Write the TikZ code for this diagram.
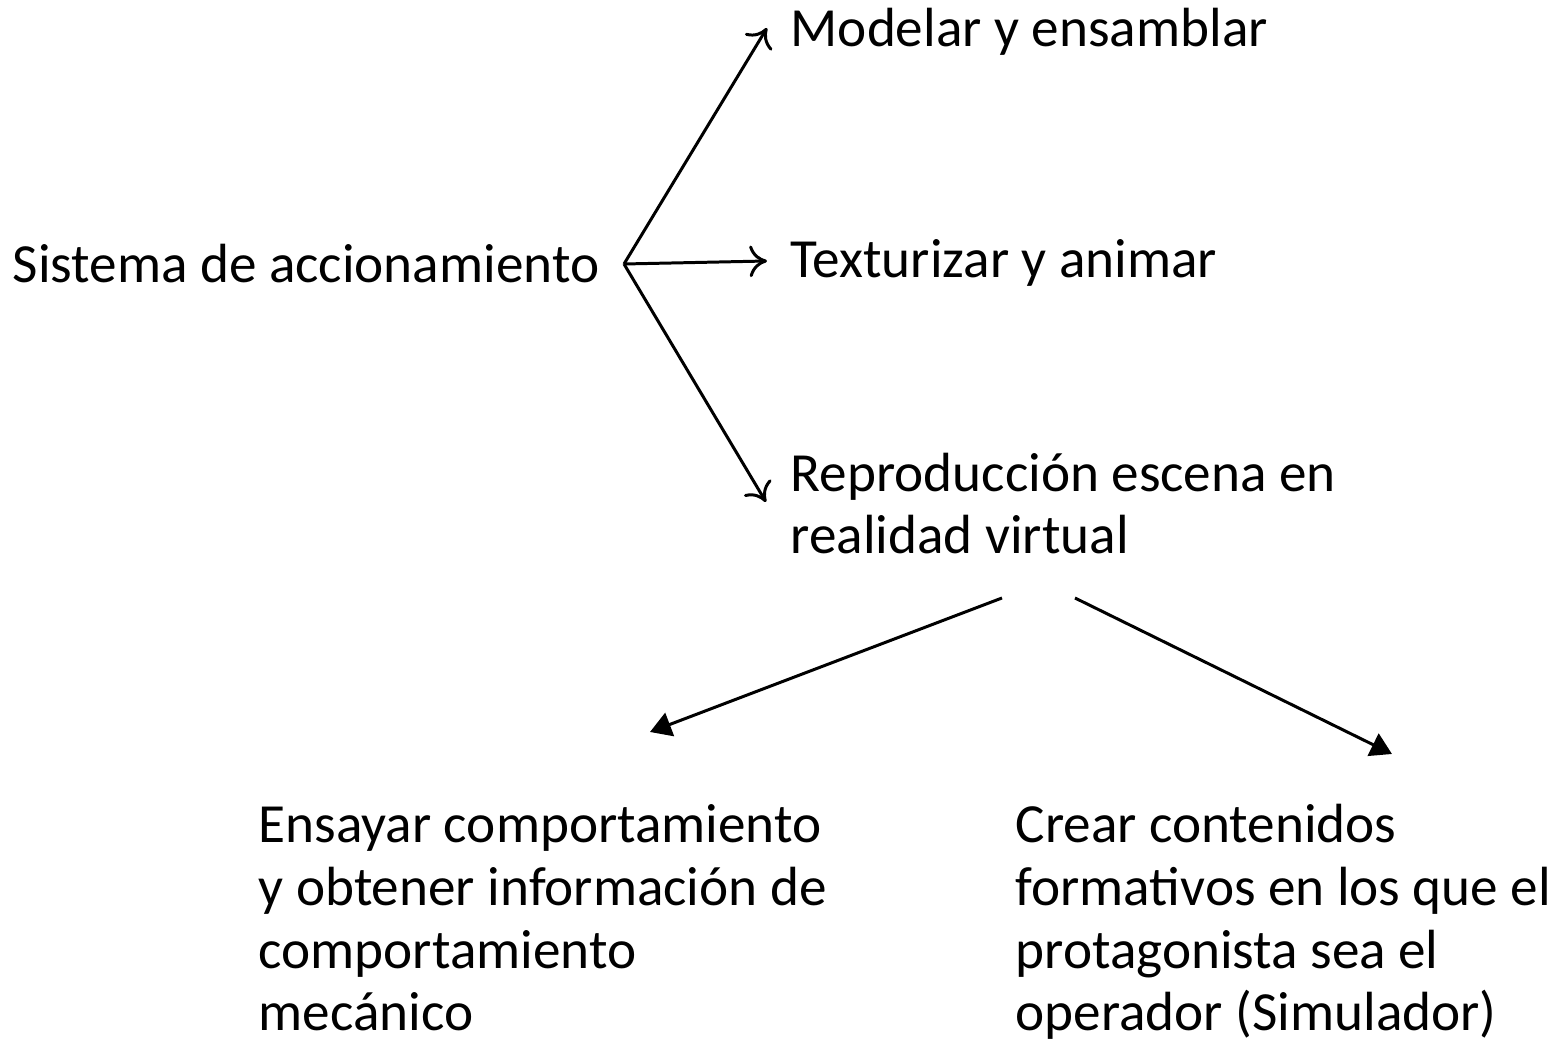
\documentclass[tikz,border=0pt]{standalone}
\usepackage{fontspec}
\setmainfont{Carlito}
\usepackage{tikz}
\usetikzlibrary{arrows.meta}

\tikzset{
	txt/.style={anchor=base west, inner sep=0pt, align=left, font=\fontsize{15.7}{17.9}\selectfont},
	open/.style={-{To[length=5pt,width=9pt]}, line width=0.85pt},
	solid tip/.style={-{Triangle[length=6pt,width=7pt]}, line width=0.85pt}
}

\begin{document}
\begin{tikzpicture}[x=0.01cm,y=-0.01cm]
\useasboundingbox (0,0) rectangle (1568,1046);

\node (src) at (12,283) [txt] {Sistema de accionamiento};
	\coordinate (fan) at (624,264);

	\node (mod) at (790,47) [txt] {Modelar y ensamblar};
	\node (tex) at (790,278) [txt] {Texturizar y animar};
	\node (rep) at (790,554) [txt] {Reproducción escena en\\realidad virtual};

	\coordinate (modtip) at (767,28);
	\coordinate (textip) at (767,261);
	\coordinate (reptip) at (766,502);
	\draw[open] (fan) -- (modtip);
	\draw[open] (fan) -- (textip);
	\draw[open] (fan) -- (reptip);

\node (ens) at (258,1031) [txt] {Ensayar comportamiento\\y obtener información de\\comportamiento\\mecánico};
\node (cre) at (1015,1031) [txt] {Crear contenidos\\formativos en los que el\\protagonista sea el\\operador (Simulador)};

	\coordinate (repl) at (1002,598);
	\coordinate (repr) at (1075,598);
	\coordinate (enstip) at (650,732);
	\coordinate (cretip) at (1392,754);
	\draw[solid tip] (repl) -- (enstip);
	\draw[solid tip] (repr) -- (cretip);
\end{tikzpicture}
\end{document}
